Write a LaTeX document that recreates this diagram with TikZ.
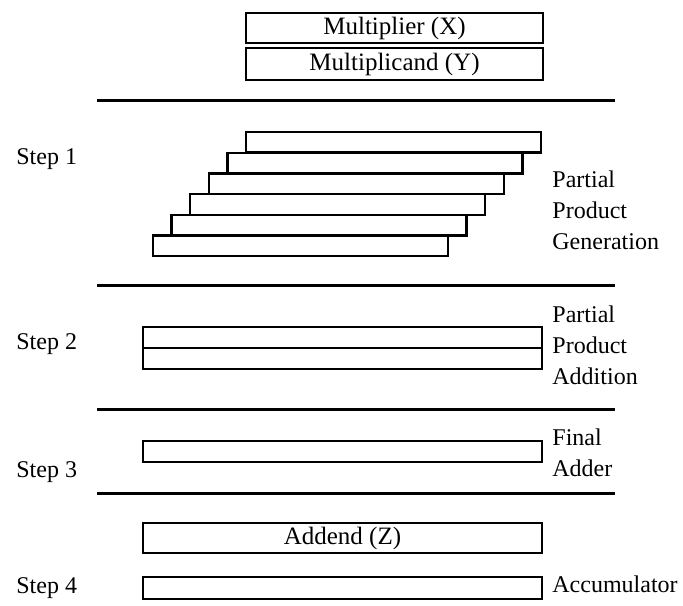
\documentclass[tikz,border=0pt]{standalone}
\usepackage{fontspec}
\setmainfont{Liberation Serif}
\usetikzlibrary{positioning}
\tikzset{
    regbox/.style = {rectangle, draw=black, line width=1.2pt, inner sep=0pt, outer sep=0pt, anchor=north west, font=\fontsize{12.5}{15.5}\selectfont},
    ppbox/.style = {regbox, minimum width=147.5pt, minimum height=10.3pt},
    widebox/.style = {regbox, minimum width=199.5pt},
    steptext/.style = {anchor=base west, inner sep=0pt, font=\fontsize{12}{15.5}\selectfont},
    sidetext/.style = {anchor=base west, inner sep=0pt, align=left, font=\fontsize{12}{15.5}\selectfont},
    rule/.style = {-, line width=1.5pt, black}
}

\begin{document}
\begin{tikzpicture}[x=0.5pt, y=-0.5pt]
  \useasboundingbox (0,0) rectangle (683,605);
  % operands
  \node[regbox, minimum width=148.5pt, minimum height=15pt] (mx) at (246,13) {Multiplier (X)};
  \node[regbox, minimum width=148.5pt, minimum height=16pt] (my) at (246,48) {Multiplicand (Y)};
  % separators
  \foreach \y [count=\k] in {100,285,409,493} {
    \coordinate (l\k) at (97,\y);
    \coordinate (r\k) at (615,\y);
    \draw[rule] (l\k) -- (r\k);
  }
  % step 1
  \node[steptext] (s1) at (16,164) {Step 1};
  \foreach \i in {0,...,5}
    \node[ppbox] (pp\i) at ({246-18.6*\i},{132+20.7*\i}) {};
  \node[sidetext] (ppg) at (552,249) {Partial\\Product\\Generation};
  % step 2
  \node[steptext] (s2) at (16,349) {Step 2};
  \node[widebox, minimum height=10.5pt] (ppa) at (143,327) {};
  \node[widebox, minimum height=10.5pt] (ppb) at (ppa.south west) {};
  \node[sidetext] (ppt) at (552,384) {Partial\\Product\\Addition};
  % step 3
  \node[steptext] (s3) at (16,477) {Step 3};
  \node[widebox, minimum height=10.5pt] (fa) at (143,441) {};
  \node[sidetext] (fat) at (552,476) {Final\\Adder};
  % step 4
  \node[steptext] (s4) at (16,593) {Step 4};
  \node[widebox, minimum height=15pt] (ad) at (143,523) {Addend (Z)};
  \node[widebox, minimum height=11pt] (acc) at (143,577) {};
  \node[sidetext] (acct) at (552,592) {Accumulator};
\end{tikzpicture}
\end{document}
